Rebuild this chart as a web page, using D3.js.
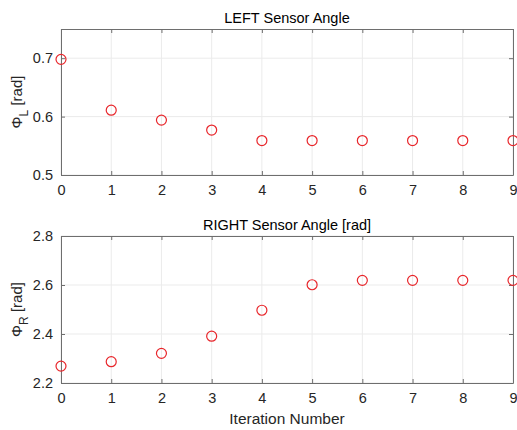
<!DOCTYPE html>
<html>
<head>
<meta charset="utf-8">
<script src="https://cdn.jsdelivr.net/npm/d3@7"></script>
<style>
  body { margin: 0; background: #fff; }
  svg { font-family: "Liberation Sans", Arial, sans-serif; }
</style>
</head>
<body>
<div id="chart"></div>
<script>
// data
let iterations = [0, 1, 2, 3, 4, 5, 6, 7, 8, 9]
let leftAngle = [0.698, 0.611, 0.594, 0.577, 0.559, 0.559, 0.559, 0.559, 0.559, 0.559]
let rightAngle = [2.269, 2.287, 2.321, 2.391, 2.497, 2.601, 2.619, 2.619, 2.619, 2.619]
let leftTicks = [0.5, 0.6, 0.7]
let rightTicks = [2.2, 2.4, 2.6, 2.8]

let svgWidth = 517
let svgHeight = 430

let svg = d3.select('#chart')
    .append('svg')
    .attr('width', svgWidth)
    .attr('height', svgHeight)

let plotLeft = 61, plotRight = 513
let axColor = '#262626'
let gridColor = '#ebebeb'

let x = d3.scaleLinear().domain([0, 9]).range([plotLeft, plotRight])

const drawPanel = (opts) => {
    let y = d3.scaleLinear().domain(opts.domain).range([opts.bottom, opts.top])
    let g = svg.append('g')

    // grid
    g.selectAll('.vgrid').data(iterations).enter().append('line')
        .attr('x1', d => x(d)).attr('x2', d => x(d))
        .attr('y1', opts.top).attr('y2', opts.bottom)
        .attr('stroke', gridColor).attr('stroke-width', 1)
    g.selectAll('.hgrid').data(opts.ticks).enter().append('line')
        .attr('x1', plotLeft).attr('x2', plotRight)
        .attr('y1', d => y(d)).attr('y2', d => y(d))
        .attr('stroke', gridColor).attr('stroke-width', 1)

    // axes with inward ticks
    let bottomAxis = d3.axisBottom(x).tickValues(iterations).tickSizeInner(-4).tickSizeOuter(0).tickPadding(10)
    let leftAxis = d3.axisLeft(y).tickValues(opts.ticks).tickFormat(d3.format('.1f')).tickSizeInner(-4).tickSizeOuter(0).tickPadding(8)
    let topAxis = d3.axisTop(x).tickValues(iterations).tickSizeInner(-4).tickSizeOuter(0).tickFormat('')
    let rightAxis = d3.axisRight(y).tickValues(opts.ticks).tickSizeInner(-4).tickSizeOuter(0).tickFormat('')

    let axes = [
        g.append('g').attr('transform', `translate(0, ${opts.bottom})`).call(bottomAxis),
        g.append('g').attr('transform', `translate(${plotLeft}, 0)`).call(leftAxis),
        g.append('g').attr('transform', `translate(0, ${opts.top})`).call(topAxis),
        g.append('g').attr('transform', `translate(${plotRight}, 0)`).call(rightAxis)
    ]
    axes.forEach(a => {
        a.select('.domain').attr('stroke', '#6e6e6e').attr('stroke-width', 1)
        a.selectAll('.tick line').attr('stroke', '#6e6e6e')
        a.selectAll('.tick text').attr('fill', axColor).attr('font-size', 14.5)
            .attr('font-family', '"Liberation Sans", Arial, sans-serif')
    })

    // markers
    g.selectAll('circle').data(opts.values).enter().append('circle')
        .attr('cx', (d, i) => x(iterations[i]))
        .attr('cy', d => y(d))
        .attr('r', 5)
        .attr('fill', 'none')
        .attr('stroke', '#e8262b')
        .attr('stroke-width', 1.2)

    // title
    g.append('text')
        .attr('x', (plotLeft + plotRight) / 2)
        .attr('y', opts.top - 6)
        .attr('text-anchor', 'middle')
        .attr('font-size', 14.5)
        .attr('fill', '#000')
        .text(opts.title)

    // y label with subscript
    let yl = g.append('text')
        .attr('transform', `translate(22, ${(opts.top + opts.bottom) / 2}) rotate(-90)`)
        .attr('text-anchor', 'middle')
        .attr('font-size', 15)
        .attr('fill', axColor)
    yl.append('tspan').text('\u03A6')
    yl.append('tspan').attr('dy', 6).attr('font-size', 12).text(opts.sub)
    yl.append('tspan').attr('dy', -6).text(' [rad]')
}

drawPanel({top: 29, bottom: 175, domain: [0.5, 0.75], ticks: leftTicks, values: leftAngle,
    title: 'LEFT Sensor Angle', sub: 'L'})
drawPanel({top: 236, bottom: 383, domain: [2.2, 2.8], ticks: rightTicks, values: rightAngle,
    title: 'RIGHT Sensor Angle [rad]', sub: 'R'})

svg.append('text')
    .attr('x', (plotLeft + plotRight) / 2)
    .attr('y', 424)
    .attr('text-anchor', 'middle')
    .attr('font-size', 15.5)
    .attr('fill', axColor)
    .text('Iteration Number')
</script>
</body>
</html>
